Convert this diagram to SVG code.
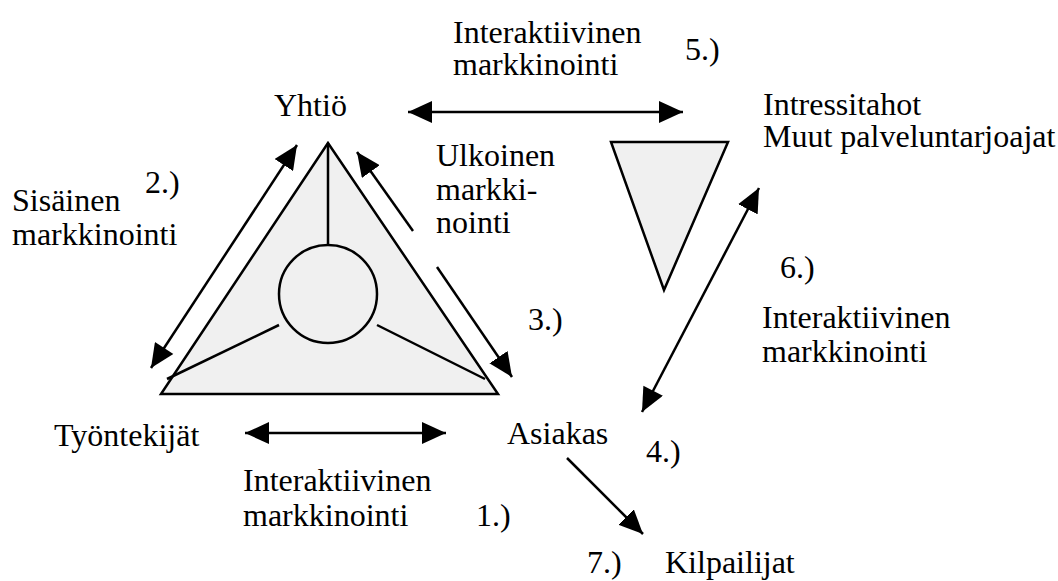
<svg xmlns="http://www.w3.org/2000/svg" width="1058" height="581" viewBox="0 0 1058 581">
<style>
text{font-family:"Liberation Serif","Times New Roman",serif;font-size:32px;fill:#000}
.shape{fill:#f0f0f0;stroke:#000;stroke-width:2.5}
.ln{stroke:#000;stroke-width:2.5;fill:none}
.arr{stroke:#000;stroke-width:2.5;fill:none;marker-end:url(#ah)}
.arr2{stroke:#000;stroke-width:2.5;fill:none;marker-start:url(#ahs);marker-end:url(#ah)}
</style>
<defs>
<marker id="ah" markerUnits="userSpaceOnUse" markerWidth="26" markerHeight="22" refX="24" refY="11" orient="auto">
<path d="M0,0 L24,11 L0,22 Z" fill="#000"/>
</marker>
<marker id="ahs" markerUnits="userSpaceOnUse" markerWidth="26" markerHeight="22" refX="0" refY="11" orient="auto">
<path d="M24,0 L0,11 L24,22 Z" fill="#000"/>
</marker>
</defs>
<rect width="1058" height="581" fill="#fff"/>
<g id="company-triangle">
<polygon class="shape" points="328,143 161,394 498,394"/>
<circle class="shape" cx="328" cy="294" r="49"/>
<line class="ln" x1="328" y1="143" x2="328" y2="245"/>
<line class="ln" x1="167" y1="379" x2="279" y2="325"/>
<line class="ln" x1="377" y1="325" x2="485" y2="379"/>
</g>
<g id="stakeholder-triangle">
<polygon class="shape" points="611,142 728,142 664,290"/>
</g>
<g id="connectors">
<line class="arr2" x1="408" y1="112" x2="683" y2="112"/>
<line class="arr2" x1="151" y1="368" x2="297" y2="145"/>
<line class="arr" x1="413" y1="231" x2="357" y2="152"/>
<line class="arr" x1="437" y1="267" x2="512" y2="377"/>
<line class="arr2" x1="245" y1="433" x2="446" y2="433"/>
<line class="arr2" x1="642" y1="412" x2="759" y2="188"/>
<line class="arr" x1="567" y1="458" x2="643" y2="534"/>
</g>
<g id="labels">
<text x="453" y="43">Interaktiivinen</text>
<text x="453" y="75">markkinointi</text>
<text x="685" y="60">5.)</text>
<text x="274" y="116">Yhtiö</text>
<text x="763" y="115">Intressitahot</text>
<text x="763" y="147">Muut palveluntarjoajat</text>
<text x="436" y="166">Ulkoinen</text>
<text x="436" y="200">markki-</text>
<text x="436" y="233">nointi</text>
<text x="12" y="211">Sisäinen</text>
<text x="12" y="245">markkinointi</text>
<text x="145" y="193">2.)</text>
<text x="780" y="278">6.)</text>
<text x="762" y="328">Interaktiivinen</text>
<text x="762" y="362">markkinointi</text>
<text x="528" y="330">3.)</text>
<text x="54" y="446">Työntekijät</text>
<text x="507" y="444">Asiakas</text>
<text x="646" y="462">4.)</text>
<text x="243" y="491">Interaktiivinen</text>
<text x="243" y="526">markkinointi</text>
<text x="476" y="526">1.)</text>
<text x="587" y="573">7.)</text>
<text x="665" y="573">Kilpailijat</text>
</g>
</svg>
